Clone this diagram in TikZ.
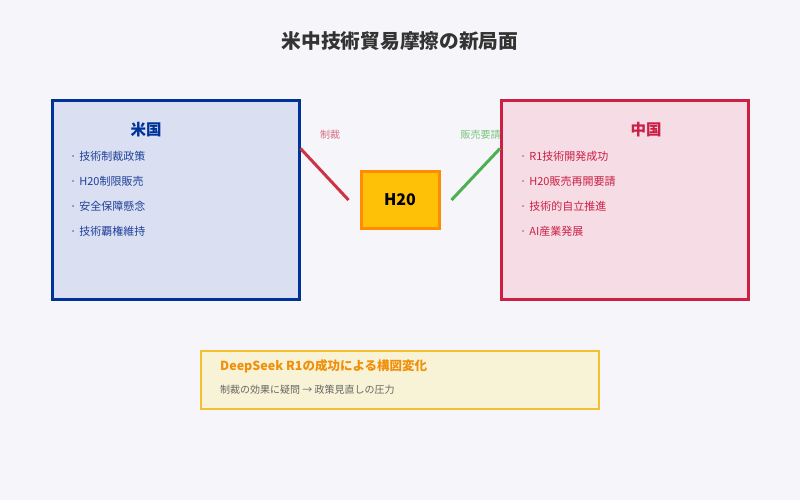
\documentclass[tikz,border=0pt]{standalone}
\usepackage{fontspec}
\setmainfont{Noto Sans CJK JP}
\usetikzlibrary{calc}
\definecolor{bg}{HTML}{F5F5FA}
\definecolor{titlec}{HTML}{333333}
\definecolor{usblue}{HTML}{003399}
\definecolor{usfill}{HTML}{DAE0F2}
\definecolor{ustext}{HTML}{1F3F99}
\definecolor{cnred}{HTML}{CC1F45}
\definecolor{cnfill}{HTML}{F5DCE5}
\definecolor{cntext}{HTML}{CC1F45}
\definecolor{hfill}{HTML}{FFC107}
\definecolor{hdraw}{HTML}{FF8C00}
\definecolor{sanc}{HTML}{CC3344}
\definecolor{sanclab}{HTML}{D9707F}
\definecolor{grn}{HTML}{4CAF50}
\definecolor{grnlab}{HTML}{7CC47F}
\definecolor{notefill}{HTML}{F8F3D6}
\definecolor{notedraw}{HTML}{F5C030}
\definecolor{notetitle}{HTML}{F0900A}
\definecolor{notetext}{HTML}{666666}
\tikzset{
  panel/.style={draw, line width=3pt, minimum width=247pt, minimum height=198pt, inner sep=0pt},
  item/.style={anchor=west, font=\fontsize{11}{13}\selectfont, inner sep=0pt},
  ptitle/.style={font=\bfseries\fontsize{15.5}{18}\selectfont, inner sep=0pt},
  lab/.style={font=\fontsize{10}{12}\selectfont, inner sep=0pt},
}
\begin{document}
\begin{tikzpicture}[x=1pt,y=-1pt]
\fill[bg] (0,0) rectangle (800,500);
\useasboundingbox (0,0) rectangle (800,500);
\node[text=titlec, font=\bfseries\fontsize{19.7}{24}\selectfont] (title) at (400,41) {米中技術貿易摩擦の新局面};

\node[panel, draw=usblue, fill=usfill] (us) at (175.5,200) {};
\node[ptitle, text=usblue] (ust) at (146,130) {米国};
\begin{scope}[text=ustext]
\node[item] (us1) at (70,156) {·\hspace{3pt}技術制裁政策};
\node[item] (us2) at (70,181) {·\hspace{3pt}H20制限販売};
\node[item] (us3) at (70,206) {·\hspace{3pt}安全保障懸念};
\node[item] (us4) at (70,231) {·\hspace{3pt}技術覇権維持};
\end{scope}

\node[panel, draw=cnred, fill=cnfill] (cn) at (625,200) {};
\node[ptitle, text=cnred] (cnt) at (646,130) {中国};
\begin{scope}[text=cntext]
\node[item] (cn1) at (520,156) {·\hspace{3pt}R1技術開発成功};
\node[item] (cn2) at (520,181) {·\hspace{3pt}H20販売再開要請};
\node[item] (cn3) at (520,206) {·\hspace{3pt}技術的自立推進};
\node[item] (cn4) at (520,231) {·\hspace{3pt}AI産業発展};
\end{scope}

\node[draw=hdraw, fill=hfill, line width=3pt, minimum width=78pt, minimum height=57pt, inner sep=0pt, font=\bfseries\fontsize{16}{19}\selectfont] (h20) at (400,200) {H20};

\coordinate (sancend) at ($(h20.west)+(-11,0)$);
\coordinate (reqend) at ($(h20.east)+(11,0)$);
\draw[sanc, line width=3pt] ($(us.north east)+(0,49)$) coordinate (usout) -- (sancend);
\draw[grn, line width=3pt] (reqend) -- ($(cn.north west)+(0,49)$) coordinate (cnin);
\node[lab, text=sanclab] (sanclabel) at (330,135) {制裁};
\node[lab, text=grnlab] (reqlabel) at (480.5,135) {販売要請};

\node[draw=notedraw, fill=notefill, line width=2pt, minimum width=398pt, minimum height=58pt, inner sep=0pt] (note) at (400,380) {};
\node[anchor=west, inner sep=0pt, text=notetitle, font=\bfseries\fontsize{12.5}{15}\selectfont] (notet) at (220,366) {DeepSeek R1の成功による構図変化};
\node[anchor=west, inner sep=0pt, text=notetext, font=\fontsize{10}{12}\selectfont] (notes) at (220,390) {制裁の効果に疑問 → 政策見直しの圧力};
\end{tikzpicture}
\end{document}
